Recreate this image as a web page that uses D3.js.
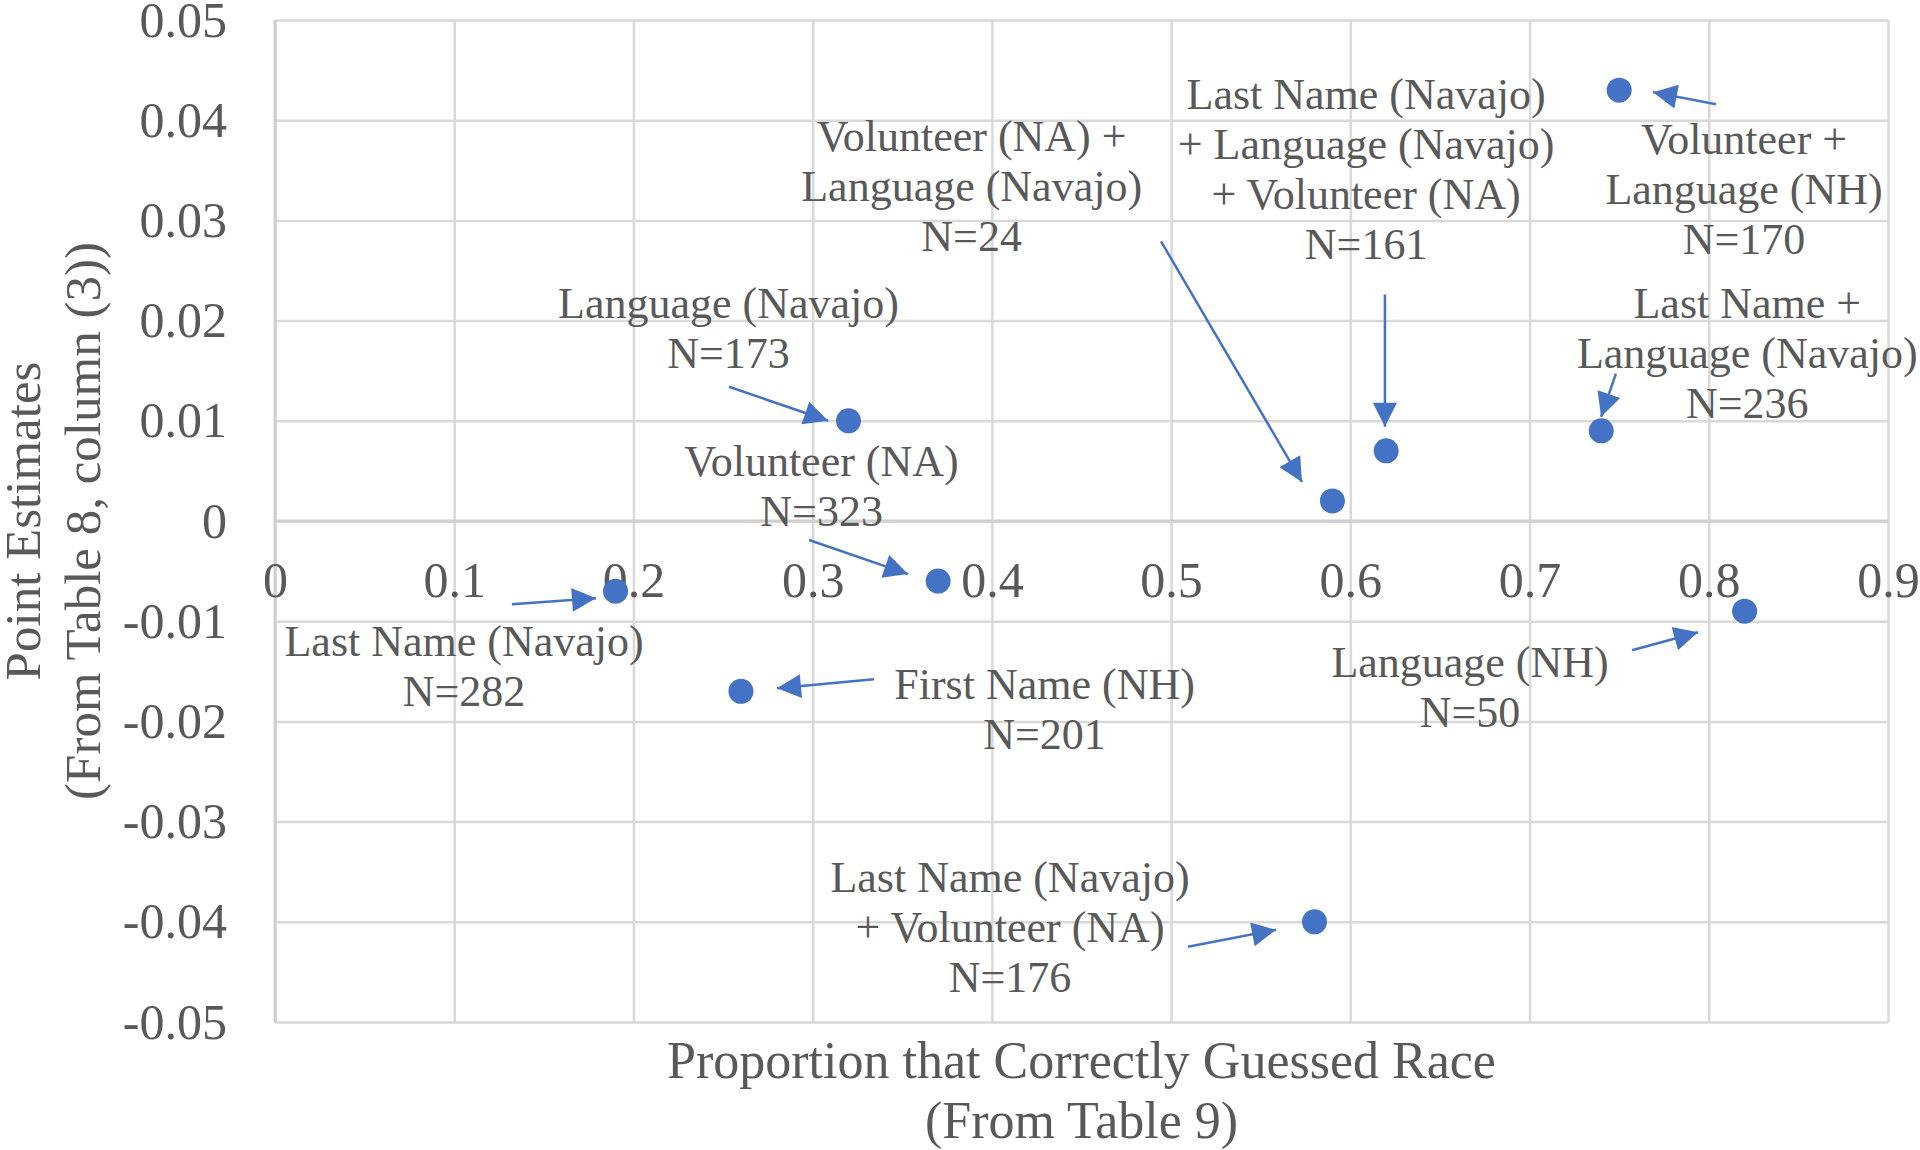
<!DOCTYPE html>
<html>
<head>
<meta charset="utf-8">
<script src="https://cdn.jsdelivr.net/npm/d3@7"></script>
<style>
  html, body { margin: 0; background: #fff; }
  svg text { font-family: "Liberation Serif", "Times New Roman", serif; fill: #595959; }
</style>
</head>
<body>
<svg id="chart" width="1920" height="1150"></svg>
<script>
// treatments, as labelled on the chart
const treatments = [
    "Language (Navajo)", "Volunteer (NA)", "Last Name (Navajo)", "First Name (NH)",
    "Last Name (Navajo) + Volunteer (NA)", "Volunteer (NA) + Language (Navajo)",
    "Last Name (Navajo) + Language (Navajo) + Volunteer (NA)", "Last Name + Language (Navajo)",
    "Volunteer + Language (NH)", "Language (NH)"
];
const proportionCorrect = [0.32, 0.37, 0.19, 0.26, 0.58, 0.59, 0.62, 0.74, 0.75, 0.82];
const pointEstimate = [0.010, -0.006, -0.007, -0.017, -0.040, 0.002, 0.007, 0.009, 0.043, -0.009];
const sampleSize = [173, 323, 282, 201, 176, 24, 161, 236, 170, 50];

// how each treatment name is broken over lines in its callout
const labelLines = [
    ["Language (Navajo)"], ["Volunteer (NA)"], ["Last Name (Navajo)"], ["First Name (NH)"],
    ["Last Name (Navajo)", "+ Volunteer (NA)"], ["Volunteer (NA) +", "Language (Navajo)"],
    ["Last Name (Navajo)", "+ Language (Navajo)", "+ Volunteer (NA)"],
    ["Last Name +", "Language (Navajo)"], ["Volunteer +", "Language (NH)"], ["Language (NH)"]
];

// callout anchors (centre of first baseline) and arrows, in data units
const labelAt = [
    [0.253, 0.0203], [0.305, 0.0045], [0.1055, -0.0135], [0.4294, -0.0178], [0.4101, -0.0370],
    [0.3887, 0.0369], [0.6088, 0.0411], [0.8215, 0.0203], [0.8197, 0.0366], [0.6668, -0.0156]
];
const arrowFrom = [
    [0.2533, 0.0134], [0.2980, -0.0019], [0.1322, -0.0083], [0.3342, -0.0158], [0.5094, -0.0425],
    [0.4944, 0.0279], [0.6193, 0.0226], [0.7482, 0.0147], [0.8040, 0.0416], [0.7572, -0.0129]
];
const arrowTo = [
    [0.3086, 0.0100], [0.3532, -0.0053], [0.1791, -0.0077], [0.2801, -0.0167], [0.5585, -0.0408],
    [0.5730, 0.0039], [0.6193, 0.0094], [0.7399, 0.0104], [0.7689, 0.0428], [0.7940, -0.0111]
];

const xTicks = [0, 0.1, 0.2, 0.3, 0.4, 0.5, 0.6, 0.7, 0.8, 0.9];
const yTicks = [-0.05, -0.04, -0.03, -0.02, -0.01, 0, 0.01, 0.02, 0.03, 0.04, 0.05];

const xTitle = ["Proportion that Correctly Guessed Race", "(From Table 9)"];
const yTitle = ["Point Estimates", "(From Table 8, column (3))"];

const width = 1920, height = 1150;
const marginLeft = 275, marginRight = 32, marginTop = 20, marginBottom = 128;
const blue = "#4472C4";
const gridColor = "#d9d9d9";

const svg = d3.select("#chart");

const x = d3.scaleLinear().domain([0, 0.9]).range([marginLeft, width - marginRight]);
const y = d3.scaleLinear().domain([-0.05, 0.05]).range([height - marginBottom, marginTop]);

// gridlines
svg.append("g")
    .attr("transform", `translate(0,${y(-0.05)})`)
    .call(d3.axisBottom(x).tickValues(xTicks).tickSize(-(y(-0.05) - y(0.05))).tickFormat(""))
    .call(g => g.select(".domain").remove())
    .call(g => g.selectAll("line").attr("stroke", gridColor).attr("stroke-width", 2.5));

svg.append("g")
    .attr("transform", `translate(${x(0)},0)`)
    .call(d3.axisLeft(y).tickValues(yTicks).tickSize(-(x(0.9) - x(0))).tickFormat(""))
    .call(g => g.select(".domain").remove())
    .call(g => g.selectAll("line").attr("stroke", gridColor).attr("stroke-width", 2.5));

// axis lines (slightly darker than the grid)
svg.append("line")
    .attr("x1", x(0)).attr("x2", x(0.9)).attr("y1", y(0)).attr("y2", y(0))
    .attr("stroke", "#cfcfcf").attr("stroke-width", 3);
svg.append("line")
    .attr("x1", x(0)).attr("x2", x(0)).attr("y1", y(0.05)).attr("y2", y(-0.05))
    .attr("stroke", "#cfcfcf").attr("stroke-width", 3);

// tick labels: x labels sit just under the zero line
svg.append("g")
    .attr("transform", `translate(0,${y(0)})`)
    .call(d3.axisBottom(x).tickValues(xTicks).tickSize(0).tickPadding(40).tickFormat(d => String(d)))
    .call(g => g.select(".domain").remove())
    .call(g => g.selectAll("text").attr("font-size", 50).attr("font-family", null));

svg.append("g")
    .attr("transform", `translate(${x(0)},0)`)
    .call(d3.axisLeft(y).tickValues(yTicks).tickSize(0).tickPadding(48).tickFormat(d => String(d)))
    .call(g => g.select(".domain").remove())
    .call(g => g.selectAll("text").attr("font-size", 50).attr("font-family", null));

// axis titles
svg.append("text")
    .attr("text-anchor", "middle")
    .attr("font-size", 52)
    .selectAll("tspan")
    .data(xTitle)
    .join("tspan")
    .attr("x", (x(0) + x(0.9)) / 2)
    .attr("y", (d, i) => 1078 + i * 60)
    .text(d => d);

svg.append("text")
    .attr("text-anchor", "middle")
    .attr("font-size", 51)
    .attr("transform", `translate(0,${(y(0.05) + y(-0.05)) / 2}) rotate(-90)`)
    .selectAll("tspan")
    .data(yTitle)
    .join("tspan")
    .attr("x", 0)
    .attr("y", (d, i) => 40 + i * 60)
    .text(d => d);

// arrowhead
svg.append("defs").append("marker")
    .attr("id", "head")
    .attr("viewBox", "0 0 10 10")
    .attr("refX", 10).attr("refY", 5)
    .attr("markerUnits", "userSpaceOnUse")
    .attr("markerWidth", 30).attr("markerHeight", 24)
    .attr("orient", "auto")
    .append("path")
    .attr("d", "M0,0L10,5L0,10Z")
    .attr("fill", blue);

svg.append("g")
    .selectAll("line")
    .data(treatments)
    .join("line")
    .attr("x1", (d, i) => x(arrowFrom[i][0]))
    .attr("y1", (d, i) => y(arrowFrom[i][1]))
    .attr("x2", (d, i) => x(arrowTo[i][0]))
    .attr("y2", (d, i) => y(arrowTo[i][1]))
    .attr("stroke", blue)
    .attr("stroke-width", 2.5)
    .attr("marker-end", "url(#head)");

// callouts
svg.append("g")
    .attr("text-anchor", "middle")
    .attr("font-size", 44)
    .selectAll("text")
    .data(treatments)
    .join("text")
    .selectAll("tspan")
    .data((d, i) => labelLines[i].concat(`N=${sampleSize[i]}`).map(t => ({ t, i })))
    .join("tspan")
    .attr("x", d => x(labelAt[d.i][0]))
    .attr("y", (d, j) => y(labelAt[d.i][1]) + j * 50)
    .text(d => d.t);

// points
svg.append("g")
    .selectAll("circle")
    .data(treatments)
    .join("circle")
    .attr("cx", (d, i) => x(proportionCorrect[i]))
    .attr("cy", (d, i) => y(pointEstimate[i]))
    .attr("r", 12.5)
    .attr("fill", blue);
</script>
</body>
</html>
